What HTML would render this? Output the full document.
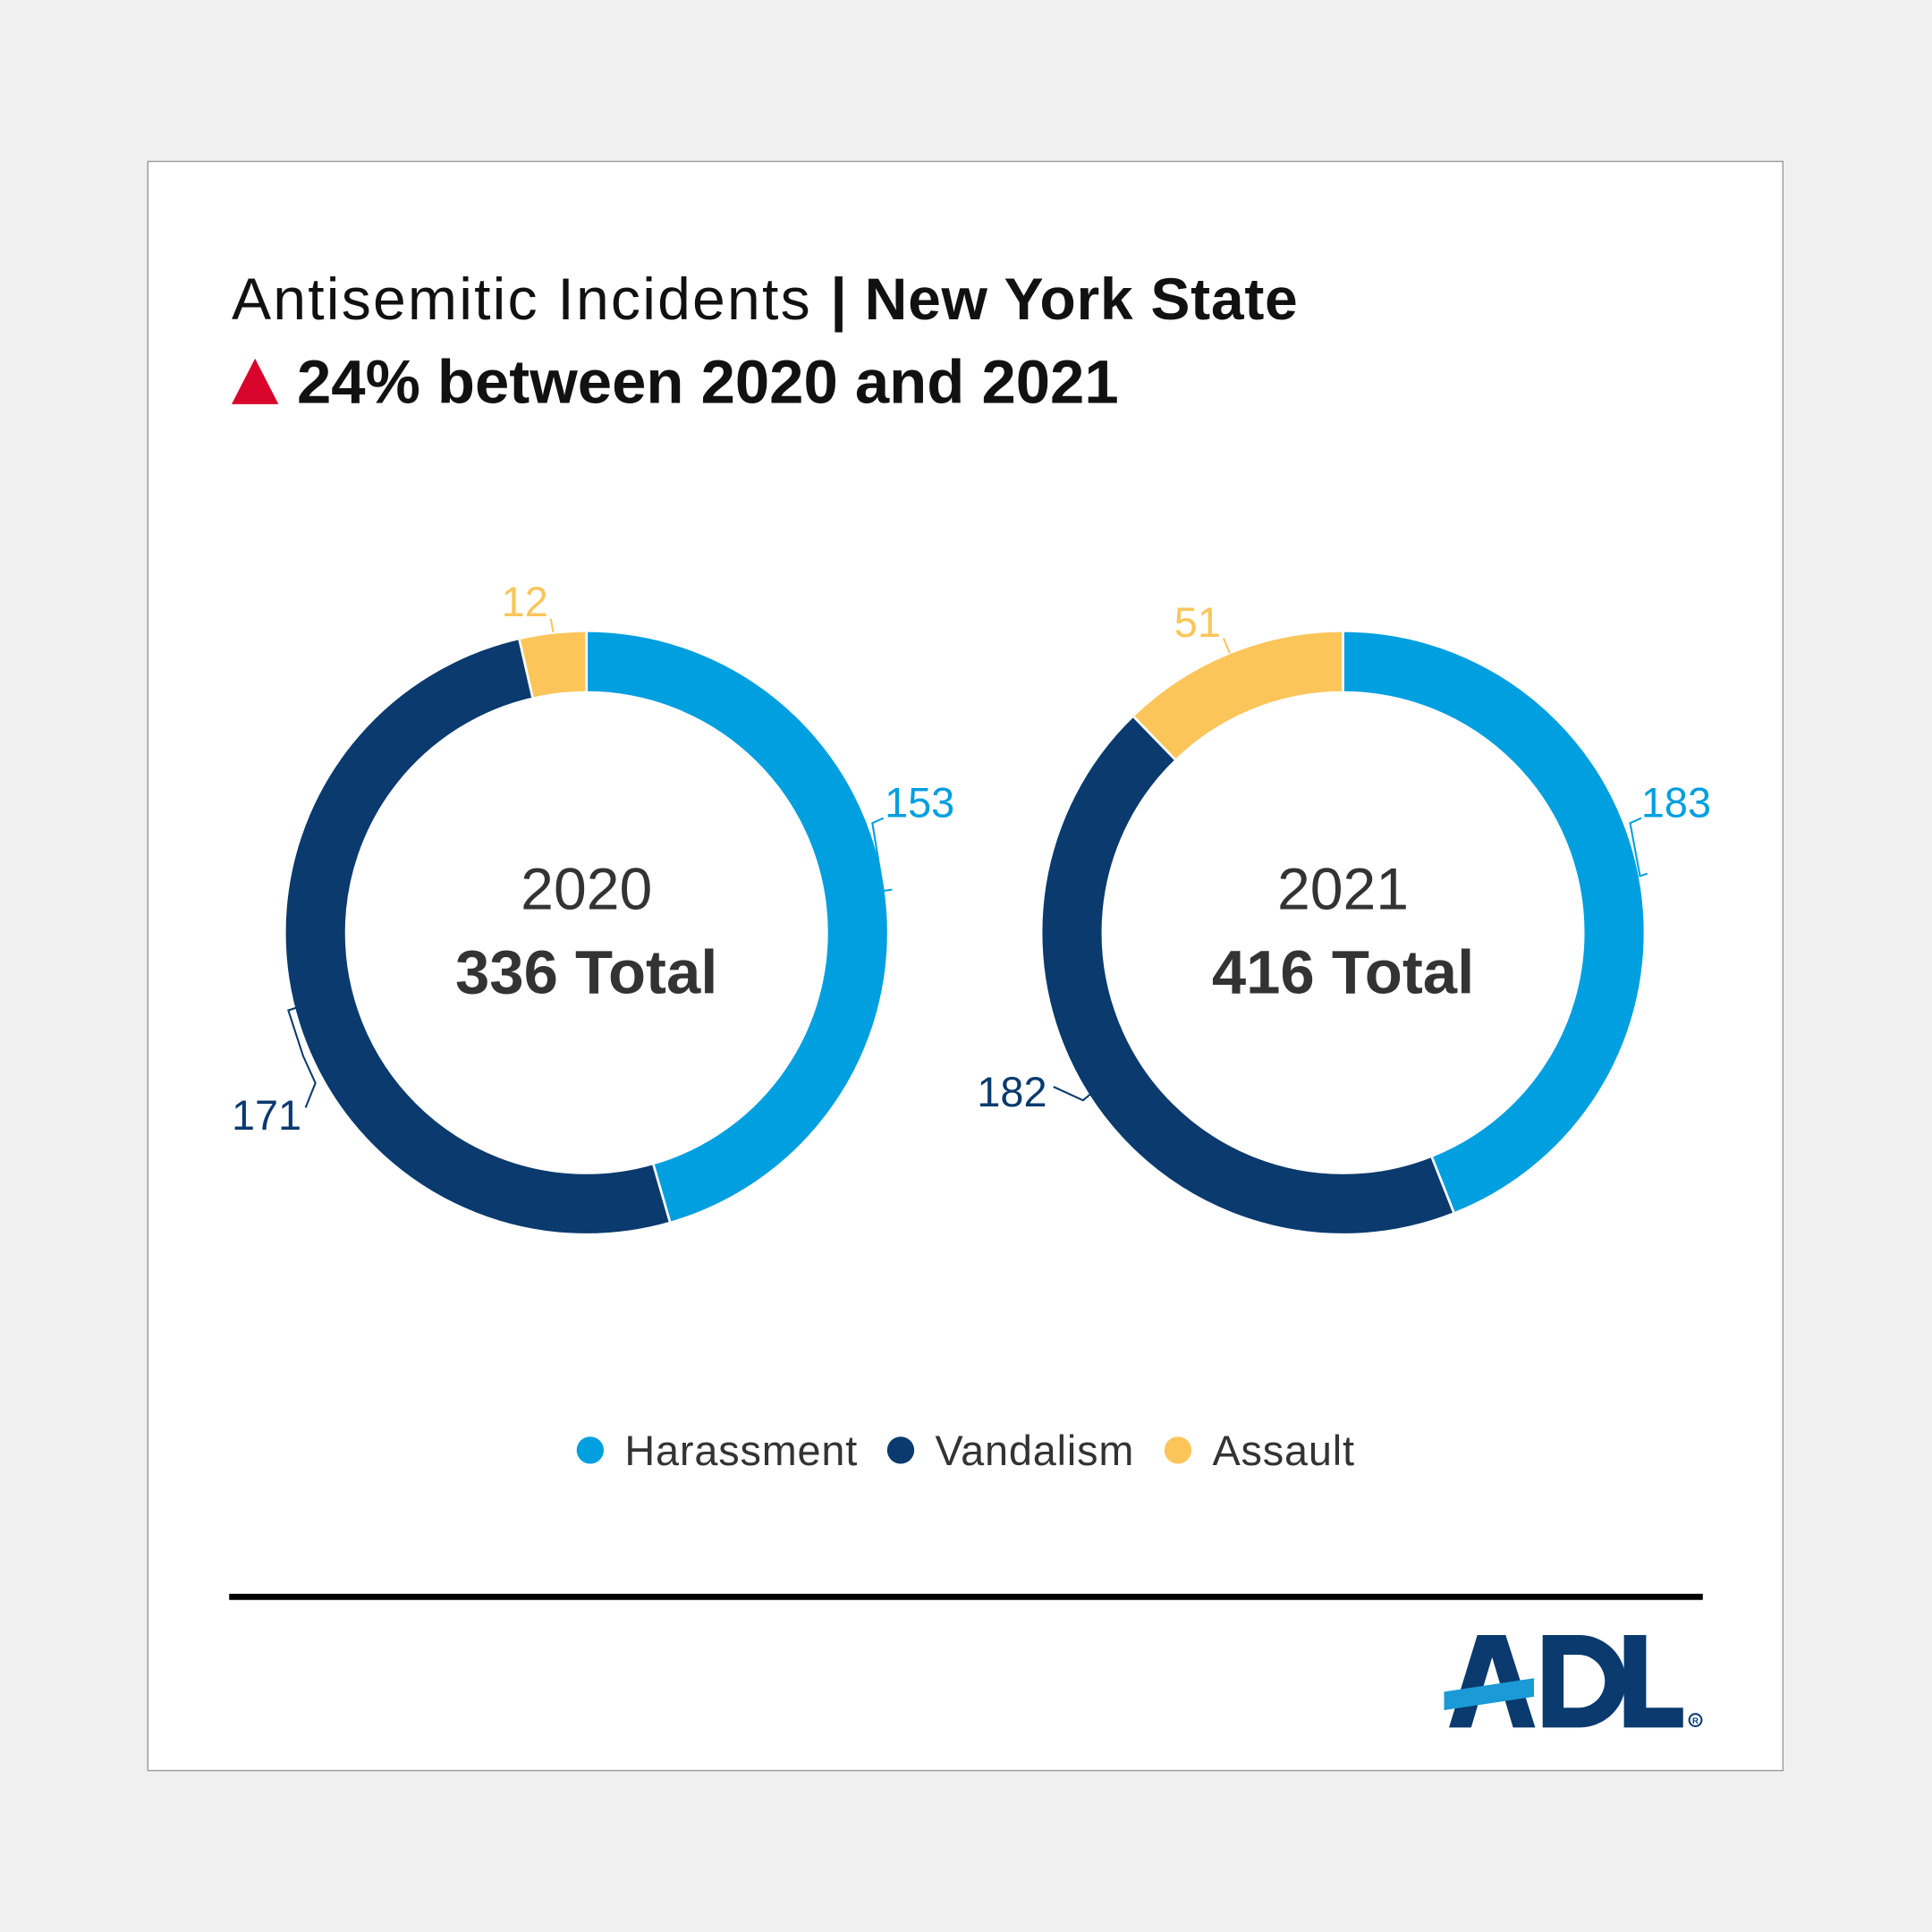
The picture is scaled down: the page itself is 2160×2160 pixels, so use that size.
<!DOCTYPE html>
<html><head><meta charset="utf-8"><style>
html,body{margin:0;padding:0;background:#f0f0f0;}
svg{display:block;}
text{font-family:"Liberation Sans",sans-serif;}
</style></head><body>
<svg width="2160" height="2160" viewBox="0 0 1568 1568" xmlns="http://www.w3.org/2000/svg">
<rect x="0" y="0" width="1568" height="1568" fill="#f0f0f0"/>
<rect x="120" y="131" width="1327" height="1306" fill="#fff" stroke="#999" stroke-width="1"/>
<text x="188" y="259" font-size="48" fill="#111" font-weight="300"><tspan letter-spacing="1.6">Antisemitic Incidents </tspan><tspan font-weight="700" letter-spacing="0.5">| New York State</tspan></text>
<polygon points="188,328 207,291 226,328" fill="#d9042b"/>
<text x="241" y="327" font-size="50" font-weight="700" fill="#111">24% between 2020 and 2021</text>

<!-- Donut 2020 -->
<g transform="translate(476,757) rotate(-90)">
  <circle r="220" fill="none" stroke="#009fe0" stroke-width="48" stroke-dasharray="629.5 2000" stroke-dashoffset="0"/>
  <circle r="220" fill="none" stroke="#0a3a6e" stroke-width="48" stroke-dasharray="703.6 2000" stroke-dashoffset="-629.5"/>
  <circle r="220" fill="none" stroke="#fbc55a" stroke-width="48" stroke-dasharray="49.4 2000" stroke-dashoffset="-1333.1"/>
  <line x1="196" y1="0" x2="244" y2="0" stroke="#fff" stroke-width="2"/>
  <line x1="196" y1="0" x2="244" y2="0" stroke="#fff" stroke-width="2" transform="rotate(163.9)"/>
  <line x1="196" y1="0" x2="244" y2="0" stroke="#fff" stroke-width="2" transform="rotate(347.1)"/>
</g>
<text x="476" y="738" font-size="48" text-anchor="middle" fill="#333" font-weight="300">2020</text>
<text x="476" y="806" font-size="50" text-anchor="middle" fill="#333" font-weight="700">336 Total</text>
<text x="718" y="663" font-size="34" fill="#009fe0">153</text>
<polyline points="724,722 717,723 708,668 717,664" fill="none" stroke="#009fe0" stroke-width="1.5"/>
<text x="188" y="917" font-size="34" fill="#0a3a6e">171</text>
<polyline points="248,899 256,879 246,857 234,820 240,818" fill="none" stroke="#0a3a6e" stroke-width="1.5"/>
<text x="407" y="500" font-size="34" fill="#fbc55a">12</text>
<line x1="447" y1="502" x2="449" y2="513" stroke="#fbc55a" stroke-width="1.5"/>

<!-- Donut 2021 -->
<g transform="translate(1090,757) rotate(-90)">
  <circle r="220" fill="none" stroke="#009fe0" stroke-width="48" stroke-dasharray="608.1 2000" stroke-dashoffset="0"/>
  <circle r="220" fill="none" stroke="#0a3a6e" stroke-width="48" stroke-dasharray="604.7 2000" stroke-dashoffset="-608.1"/>
  <circle r="220" fill="none" stroke="#fbc55a" stroke-width="48" stroke-dasharray="169.5 2000" stroke-dashoffset="-1212.8"/>
  <line x1="196" y1="0" x2="244" y2="0" stroke="#fff" stroke-width="2"/>
  <line x1="196" y1="0" x2="244" y2="0" stroke="#fff" stroke-width="2" transform="rotate(158.4)"/>
  <line x1="196" y1="0" x2="244" y2="0" stroke="#fff" stroke-width="2" transform="rotate(315.9)"/>
</g>
<text x="1090" y="738" font-size="48" text-anchor="middle" fill="#333" font-weight="300">2021</text>
<text x="1090" y="806" font-size="50" text-anchor="middle" fill="#333" font-weight="700">416 Total</text>
<text x="1332" y="663" font-size="34" fill="#009fe0">183</text>
<polyline points="1337,709 1331,711 1323,668 1332,664" fill="none" stroke="#009fe0" stroke-width="1.5"/>
<text x="793" y="898" font-size="34" fill="#0a3a6e">182</text>
<polyline points="855,882 879,893 885,888" fill="none" stroke="#0a3a6e" stroke-width="1.5"/>
<text x="953" y="517" font-size="34" fill="#fbc55a">51</text>
<line x1="993" y1="518" x2="998" y2="530" stroke="#fbc55a" stroke-width="1.5"/>

<!-- Legend -->
<circle cx="479" cy="1177" r="11" fill="#009fe0"/>
<text x="507" y="1189" font-size="34" fill="#333" font-weight="300" letter-spacing="0.6">Harassment</text>
<circle cx="731" cy="1177" r="11" fill="#0a3a6e"/>
<text x="759" y="1189" font-size="34" fill="#333" font-weight="300" letter-spacing="0.6">Vandalism</text>
<circle cx="956" cy="1177" r="11" fill="#fbc55a"/>
<text x="984" y="1189" font-size="34" fill="#333" font-weight="300" letter-spacing="0.6">Assault</text>

<line x1="186" y1="1296" x2="1382" y2="1296" stroke="#000" stroke-width="5"/>

<!-- ADL logo -->
<polygon points="1176,1402 1199,1327 1222,1327 1246,1402 1228,1402 1211,1345 1194,1402" fill="#0a3a6e"/>
<path d="M1252,1327 h30 a37,37 0 0 1 0,75 h-30 z M1269,1343 v43 h12 a21.5,21.5 0 0 0 0,-43 z" fill="#0a3a6e" fill-rule="evenodd"/>
<polygon points="1318,1327 1336,1327 1336,1386 1366,1386 1366,1402 1318,1402" fill="#0a3a6e"/>
<polygon points="1172,1373 1245,1362 1245,1377 1172,1388" fill="#1a9ad6"/>
<circle cx="1376" cy="1396" r="5" fill="none" stroke="#0a3a6e" stroke-width="1.5"/>
<text x="1376" y="1399" font-size="7" text-anchor="middle" fill="#0a3a6e" font-weight="700">R</text>
</svg>
</body></html>
